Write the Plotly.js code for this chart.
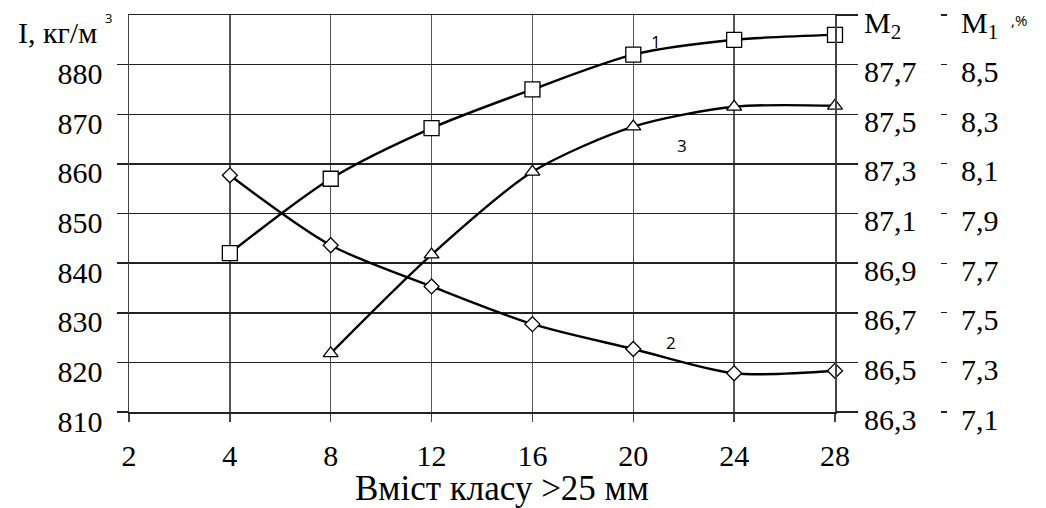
<!DOCTYPE html>
<html>
<head>
<meta charset="utf-8">
<script src="https://cdn.plot.ly/plotly-3.0.1.min.js"></script>
<style>html,body{margin:0;padding:0;background:#fff;}#chart{width:1046px;height:508px;}</style>
</head>
<body>
<div id="chart"></div>
<script>
// Categories on the x axis (content of class >25 mm)
const categories = ['2', '4', '8', '12', '16', '20', '24', '28'];
// Curve 1 (squares): I, kg/m3 (left axis)
const curve1 = [null, 842.0, 857.0, 867.2, 875.0, 882.0, 885.0, 886.0];
// Curve 2 (diamonds): M1, % (far right axis)
const curve2 = [null, 8.054, 7.772, 7.606, 7.454, 7.354, 7.256, 7.266];
// Curve 3 (triangles): M2 (right axis)
const curve3 = [null, null, 86.536, 86.934, 87.268, 87.450, 87.530, 87.534];
// Left axis ticks
const leftTicks = [810, 820, 830, 840, 850, 860, 870, 880];
// Right axis M2 ticks
const m2Ticks = [86.3, 86.5, 86.7, 86.9, 87.1, 87.3, 87.5, 87.7, 87.9];
const m2Text = ['86,3', '86,5', '86,7', '86,9', '87,1', '87,3', '87,5', '87,7', 'M<sub>2</sub>'];
// Right axis M1 ticks
const m1Ticks = [7.1, 7.3, 7.5, 7.7, 7.9, 8.1, 8.3, 8.5, 8.7];
const m1Text = ['7,1', '7,3', '7,5', '7,7', '7,9', '8,1', '8,3', '8,5', 'M<sub>1</sub>'];

const W = 1046, H = 508;
const L = 129, T = 15, B = 96, R = 46;
const plotRight = 835;
const paperW = W - L - R;            // 871
const plotH = H - T - B;             // 397
const px = x => (x - L) / paperW;
const py = y => (H - B - y) / plotH;

const serif = 'Liberation Serif';
const sans = 'Open Sans';

function mk(y, symbol, size, yaxis) {
  return {
    x: categories, y: y, type: 'scatter', mode: 'lines+markers', yaxis: yaxis,
    line: {color: '#000', width: 2.4, shape: 'spline', smoothing: 0.8},
    marker: {symbol: symbol, size: size, color: '#fff', line: {color: '#000', width: 1.3}},
    cliponaxis: false, hoverinfo: 'skip', showlegend: false
  };
}

const data = [
  mk(curve1, 'square', 15, 'y'),
  mk(curve2, 'diamond', 11.5, 'y3'),
  mk(curve3, 'triangle-up', 13, 'y2')
];

const tf = () => ({family: serif, size: 30, color: '#000'});

const layout = {
  width: W, height: H,
  margin: {l: L, r: R, t: T, b: B, pad: 0},
  paper_bgcolor: '#fff', plot_bgcolor: '#fff',
  font: tf(),
  showlegend: false,
  xaxis: {
    type: 'category', categoryorder: 'array', categoryarray: categories,
    range: [0, 7], domain: [0, px(plotRight)],
    showgrid: true, gridcolor: '#555', gridwidth: 1.5,
    showline: true, mirror: true, linecolor: '#222', linewidth: 1.5,
    ticks: 'outside', ticklen: 8, tickwidth: 1.5, tickcolor: '#444',
    tickfont: tf(), zeroline: false, ticklabelstandoff: 8, fixedrange: true
  },
  yaxis: {
    range: [810, 890], tickvals: leftTicks, ticktext: leftTicks.map(String),
    showgrid: true, gridcolor: '#222', gridwidth: 1.5,
    showline: true, mirror: true, linecolor: '#444', linewidth: 1.5,
    ticks: 'outside', ticklen: 11, tickwidth: 1.5, tickcolor: '#222',
    tickfont: tf(), zeroline: false,
    ticklabelstandoff: 8, ticklabelshift: 9, fixedrange: true
  },
  yaxis2: {
    overlaying: 'y', side: 'right', anchor: 'x',
    range: [86.3, 87.9], tickvals: m2Ticks, ticktext: m2Text,
    showgrid: false, showline: false, zeroline: false,
    ticks: 'outside', ticklen: 22, tickwidth: 1.5, tickcolor: '#222',
    tickfont: tf(), ticklabelshift: 7, fixedrange: true
  },
  yaxis3: {
    overlaying: 'y', side: 'right', anchor: 'free', position: px(940),
    range: [7.1, 8.7], tickvals: m1Ticks, ticktext: m1Text,
    showgrid: false, showline: false, zeroline: false,
    ticks: 'outside', ticklen: 6, tickwidth: 1.2, tickcolor: '#222',
    tickfont: tf(), ticklabelstandoff: 8, ticklabelshift: 7, fixedrange: true
  },
  annotations: [
    {xref: 'paper', yref: 'paper', x: px(99), y: py(33), xanchor: 'right', yanchor: 'middle',
     text: 'I, кг/м', showarrow: false, font: tf()},
    {xref: 'paper', yref: 'paper', x: px(108), y: py(18), xanchor: 'center', yanchor: 'middle',
     text: '3', showarrow: false, font: {family: sans, size: 13}},
    {xref: 'paper', yref: 'paper', x: px(1019), y: py(20), xanchor: 'center', yanchor: 'middle',
     text: ',%', showarrow: false, font: {family: sans, size: 15}},
    {xref: 'paper', yref: 'paper', x: px(502), y: py(488), xanchor: 'center', yanchor: 'middle',
     text: 'Вміст класу >25 мм', showarrow: false, font: {family: serif, size: 35, color: '#000'}},
    {xref: 'paper', yref: 'paper', x: px(656), y: py(41), xanchor: 'center', yanchor: 'middle',
     text: '1', showarrow: false, font: {family: sans, size: 17}},
    {xref: 'paper', yref: 'paper', x: px(671), y: py(342), xanchor: 'center', yanchor: 'middle',
     text: '2', showarrow: false, font: {family: sans, size: 17}},
    {xref: 'paper', yref: 'paper', x: px(682), y: py(145), xanchor: 'center', yanchor: 'middle',
     text: '3', showarrow: false, font: {family: sans, size: 17}}
  ]
};

Plotly.newPlot('chart', data, layout, {displayModeBar: false, staticPlot: true});
</script>
</body>
</html>
